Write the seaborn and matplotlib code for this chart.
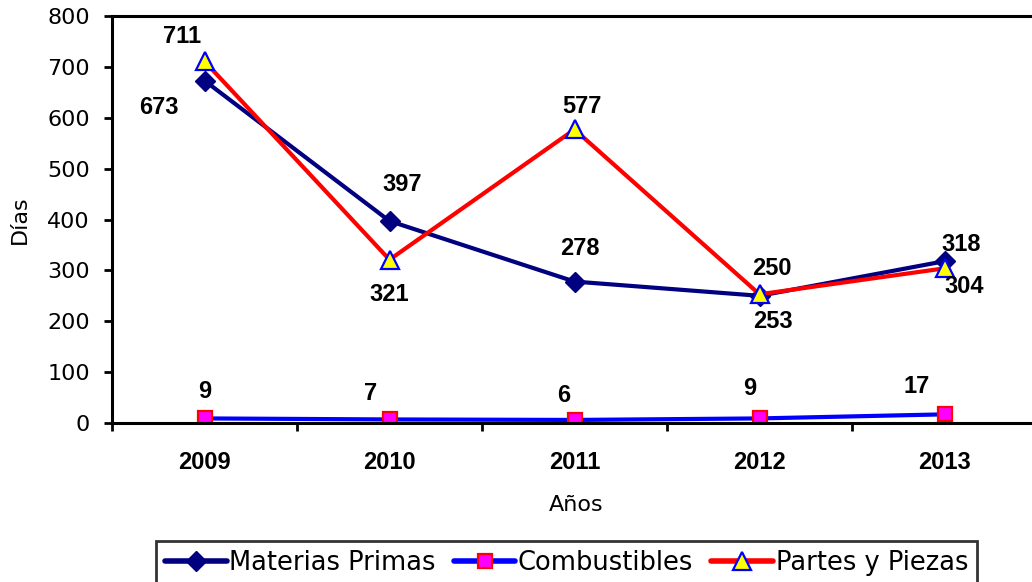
import numpy as np
import pandas as pd
import matplotlib
matplotlib.use("Agg")
import matplotlib.pyplot as plt
import seaborn as sns

years = ["2009", "2010", "2011", "2012", "2013"]
materias_primas = [673, 397, 278, 250, 318]
combustibles = [9, 7, 6, 9, 17]
partes_piezas = [711, 321, 577, 253, 304]
series_names = ["Materias Primas", "Combustibles", "Partes y Piezas"]

sns.set_theme(style="white")
plt.rcParams['font.family'] = ['DejaVu Sans']
plt.rcParams['text.color'] = 'black'

W, H = 1032, 582
fig = plt.figure(figsize=(W / 100, H / 100), dpi=100)
left, right, bottom, top = 112, 1037, 423, 16
ax = fig.add_axes([left / W, (H - bottom) / H, (right - left) / W, (bottom - top) / H])

x = np.arange(len(years))
df = pd.DataFrame({"x": x, series_names[0]: materias_primas,
                   series_names[1]: combustibles, series_names[2]: partes_piezas})

styles = {
    series_names[0]: dict(color="#000080", marker="D", markersize=10, markerfacecolor="#000080",
                          markeredgecolor="#000080", markeredgewidth=1),
    series_names[1]: dict(color="#0000FF", marker="s", markersize=10, markerfacecolor="#FF00FF",
                          markeredgecolor="#FF0000", markeredgewidth=1.6),
    series_names[2]: dict(color="#FF0000", marker="^", markersize=13, markerfacecolor="#FFFF00",
                          markeredgecolor="#0000FF", markeredgewidth=1.6),
}
for name in series_names:
    sns.lineplot(data=df, x="x", y=name, ax=ax, linewidth=3, label=name,
                 legend=False, **styles[name])

# label offsets (pixels)
offsets = {
    series_names[0]: [(-46, -27), (13, 37), (5, 33), (12, 27), (17, 17)],
    series_names[1]: [(0, 27), (-19, 26), (-11, 24), (-10, 30), (-28, 28)],
    series_names[2]: [(-22, 25), (0, -35), (7, 23), (13, -27), (20, -18)],
}
for name in series_names:
    for xi, v, off in zip(x, df[name], offsets[name]):
        ax.annotate(str(v), (xi, v), xytext=off, textcoords="offset pixels",
                    ha="center", va="center", fontsize=17, fontweight="bold",
                    family="Liberation Sans", color="black")

ax.set_xlim(-0.5, len(years) - 0.5)
ax.set_ylim(0, 800)
ax.set_yticks(np.arange(0, 801, 100))
ax.set_xticks(x)
ax.set_xticklabels(years, fontsize=17, fontweight="bold", family="Liberation Sans")
ax.set_xticks(np.arange(-0.5, len(years)), minor=True)
ax.tick_params(axis="x", which="major", length=0, pad=20, colors="black")
ax.tick_params(axis="x", which="minor", length=6, width=2, direction="out", bottom=True, color="black")
ax.tick_params(axis="y", which="major", length=6, width=2, direction="out", left=True,
               pad=10, labelsize=16, colors="black")
ax.set_xlabel("")
ax.set_ylabel("")
for s in ax.spines.values():
    s.set_visible(True)
    s.set_color("black")
    s.set_linewidth(2.2)

fig.text(20 / W, 1 - 220 / H, "Días", rotation=90, ha="center", va="center", fontsize=16, color="black")
fig.text(576 / W, 1 - 505 / H, "Años", ha="center", va="center", fontsize=16, color="black")

handles, labels = ax.get_legend_handles_labels()
leg = fig.legend(handles, labels, loc="upper left", bbox_to_anchor=(156 / W, 1 - 541 / H),
                 ncol=3, frameon=True, fancybox=False, handlelength=2.4, handletextpad=0.1,
                 columnspacing=0.7, borderpad=0.35, borderaxespad=0,
                 prop=dict(family="DejaVu Sans", size=18.5))
leg.get_frame().set_edgecolor("black")
leg.get_frame().set_linewidth(2)
for lh in leg.get_lines():
    lh.set_linewidth(4)

fig.savefig("out.png", dpi=100)
